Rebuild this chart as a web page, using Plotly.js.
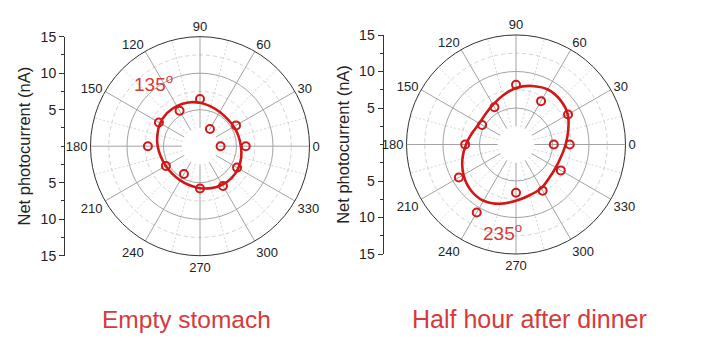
<!DOCTYPE html>
<html>
<head>
<meta charset="utf-8">
<script src="https://cdn.plot.ly/plotly-3.0.1.min.js"></script>
<style>
html,body{margin:0;padding:0;background:#fff;}
#chart{width:705px;height:351px;}
</style>
</head>
<body>
<div id="chart"></div>
<script>
// ---------- data ----------
const angleTicks = [0, 30, 60, 90, 120, 150, 180, 210, 240, 270, 300, 330];
const angleTickText = ["0", "30", "60", "90", "120", "150", "180", "210", "240", "270", "300", "330"];
const minorAngleTicks = [15, 45, 75, 105, 135, 165, 195, 225, 255, 285, 315, 345];
const sideTickVals = [-15, -10, -5, 5, 10, 15];
const sideTickText = ["15", "10", "5", "5", "10", "15"];
const sideMinorVals = [-12.5, -7.5, -2.5, 0, 2.5, 7.5, 12.5];

// measured points (every 30 degrees, 0..360)
const measAngles = [0, 30, 60, 90, 120, 150, 180, 210, 240, 270, 300, 330, 360];
const emptyMeas = [6.27, 5.7, 2.73, 6.45, 5.6, 6.5, 7.14, 5.4, 4.4, 5.8, 6.3, 5.86, 2.82];
const dinnerMeas = [7.36, 8.23, 6.86, 8.18, 5.9, 5.36, 6.96, 9.04, 10.76, 6.6, 7.3, 7.09, 5.18];

// fitted curves (every 15 degrees, 0..360)
const fitAngles = [0, 15, 30, 45, 60, 75, 90, 105, 120, 135, 150, 165, 180, 195, 210, 225, 240, 255, 270, 285, 300, 315, 330, 345, 360];
const emptyFit = [5.6, 5.45, 5.35, 5.3, 5.4, 5.65, 5.95, 6.2, 6.35, 6.4, 6.3, 6.05, 5.8, 5.55, 5.4, 5.35, 5.4, 5.55, 5.75, 5.95, 6.1, 6.15, 6.05, 5.85, 5.6];
const dinnerFit = [6.8, 7.4, 8.2, 8.6, 8.7, 8.3, 7.75, 6.95, 6.3, 5.9, 5.8, 6.2, 6.85, 7.6, 8.3, 8.8, 8.9, 8.4, 7.7, 7.2, 6.9, 6.45, 6.3, 6.4, 6.8];

const panelTitles = ["Empty stomach", "Half hour after dinner"];
const peakLabels = ["135<sup>o</sup>", "235<sup>o</sup>"];
const yTitle = "Net photocurrent (nA)";

// ---------- style ----------
const RED = "#d01818";
const TXTRED = "#d63a3a";
const FONT = "Liberation Sans, Arial, sans-serif";
const W = 705, H = 351;

function dom(cx, cy, r) {
  return {x: [(cx - r) / W, (cx + r) / W], y: [(H - cy - r) / H, (H - cy + r) / H]};
}
const dL = dom(200, 146.2, 109.5);
const dR = dom(516, 144.5, 109.5);

// bottom layer: dotted 15-degree spokes and dashed half-step circles
function minorPolar(d) {
  return {
    domain: d, hole: 1 / 6, bgcolor: "#ffffff",
    angularaxis: {rotation: 0, direction: "counterclockwise",
      tickmode: "array", tickvals: minorAngleTicks,
      showticklabels: false, ticks: "", showline: false,
      gridcolor: "#d6d6d6", griddash: "2px,2px", gridwidth: 1},
    radialaxis: {range: [2.5, 15], tickmode: "array", tickvals: [7.5, 12.5],
      showticklabels: false, ticks: "", showline: false,
      gridcolor: "#d2d2d2", griddash: "4px,3px", gridwidth: 1}
  };
}
// middle layer: solid 30-degree spokes and circles at 5, 10
function majorPolar(d) {
  return {
    domain: d, hole: 1 / 6, bgcolor: "rgba(0,0,0,0)",
    angularaxis: {rotation: 0, direction: "counterclockwise",
      tickmode: "array", tickvals: angleTicks,
      showticklabels: false, ticks: "", showline: false,
      gridcolor: "#a3a3a3", gridwidth: 1},
    radialaxis: {range: [2.5, 15], tickmode: "array", tickvals: [5, 10],
      showticklabels: false, ticks: "", showline: false,
      gridcolor: "#a3a3a3", gridwidth: 1}
  };
}
// top layer: outer frame, angle labels, data
function dataPolar(d) {
  return {
    domain: d, hole: 0, bgcolor: "rgba(0,0,0,0)",
    angularaxis: {rotation: 0, direction: "counterclockwise",
      tickmode: "array", tickvals: angleTicks, ticktext: angleTickText,
      tickfont: {family: FONT, size: 13, color: "#222"},
      ticks: "", showline: true, linecolor: "#333", linewidth: 1, showgrid: false},
    radialaxis: {range: [0, 15], visible: false, showgrid: false}
  };
}
function sideAxis(anchor, d) {
  return {
    anchor: anchor, domain: d.y, range: [-15, 15], fixedrange: true,
    showline: true, linecolor: "#333", linewidth: 1,
    ticks: "outside", ticklen: 5, tickwidth: 1, tickcolor: "#333",
    tickmode: "array", tickvals: sideTickVals, ticktext: sideTickText,
    minor: {tickmode: "array", tickvals: sideMinorVals, ticks: "outside", ticklen: 3, tickcolor: "#333", showgrid: false},
    showgrid: false, zeroline: false,
    tickfont: {family: FONT, size: 14, color: "#222"},
    title: {text: yTitle, font: {family: FONT, size: 16.5, color: "#222"}, standoff: 5}
  };
}

function holder(sub) {
  return {type: "scatterpolar", subplot: sub, r: [], theta: [], visible: false, showlegend: false};
}
function axisHolder(xa, ya) {
  return {type: "scatter", xaxis: xa, yaxis: ya, x: [], y: [], visible: false, showlegend: false};
}

const traces = [
  holder("polar"), holder("polar2"),
  {type: "scatterpolar", subplot: "polar3", r: emptyFit, theta: fitAngles, mode: "lines",
   line: {color: RED, width: 2.6, shape: "spline"}, hoverinfo: "skip", showlegend: false},
  {type: "scatterpolar", subplot: "polar3", r: emptyMeas, theta: measAngles, mode: "markers",
   marker: {symbol: "circle-open", size: 8, color: RED, line: {width: 2, color: RED}}, showlegend: false},
  holder("polar4"), holder("polar5"),
  {type: "scatterpolar", subplot: "polar6", r: dinnerFit, theta: fitAngles, mode: "lines",
   line: {color: RED, width: 2.6, shape: "spline"}, hoverinfo: "skip", showlegend: false},
  {type: "scatterpolar", subplot: "polar6", r: dinnerMeas, theta: measAngles, mode: "markers",
   marker: {symbol: "circle-open", size: 8, color: RED, line: {width: 2, color: RED}}, showlegend: false},
  axisHolder("x", "y"), axisHolder("x2", "y2")
];

const layout = {
  width: W, height: H, margin: {l: 0, r: 0, t: 0, b: 0},
  paper_bgcolor: "#ffffff", plot_bgcolor: "rgba(0,0,0,0)",
  showlegend: false,
  font: {family: FONT, color: "#222"},
  polar: minorPolar(dL),
  polar2: majorPolar(dL),
  polar3: dataPolar(dL),
  polar4: minorPolar(dR),
  polar5: majorPolar(dR),
  polar6: dataPolar(dR),
  xaxis: {domain: [65 / W, 70 / W], range: [0, 1], visible: false, fixedrange: true},
  yaxis: sideAxis("x", dL),
  xaxis2: {domain: [383.5 / W, 388 / W], range: [0, 1], visible: false, fixedrange: true},
  yaxis2: sideAxis("x2", dR),
  annotations: [
    {xref: "paper", yref: "paper", x: 153 / W, y: 1 - 83 / H, text: peakLabels[0], showarrow: false,
     font: {family: FONT, size: 19, color: TXTRED}, xanchor: "center", yanchor: "middle"},
    {xref: "paper", yref: "paper", x: 502 / W, y: 1 - 232 / H, text: peakLabels[1], showarrow: false,
     font: {family: FONT, size: 19, color: TXTRED}, xanchor: "center", yanchor: "middle"},
    {xref: "paper", yref: "paper", x: 186 / W, y: 1 - 319 / H, text: panelTitles[0], showarrow: false,
     font: {family: FONT, size: 24.5, color: TXTRED}, xanchor: "center", yanchor: "middle"},
    {xref: "paper", yref: "paper", x: 529 / W, y: 1 - 319 / H, text: panelTitles[1], showarrow: false,
     font: {family: FONT, size: 25, color: TXTRED}, xanchor: "center", yanchor: "middle"}
  ]
};

Plotly.newPlot("chart", traces, layout, {staticPlot: true, displayModeBar: false});
</script>
</body>
</html>
